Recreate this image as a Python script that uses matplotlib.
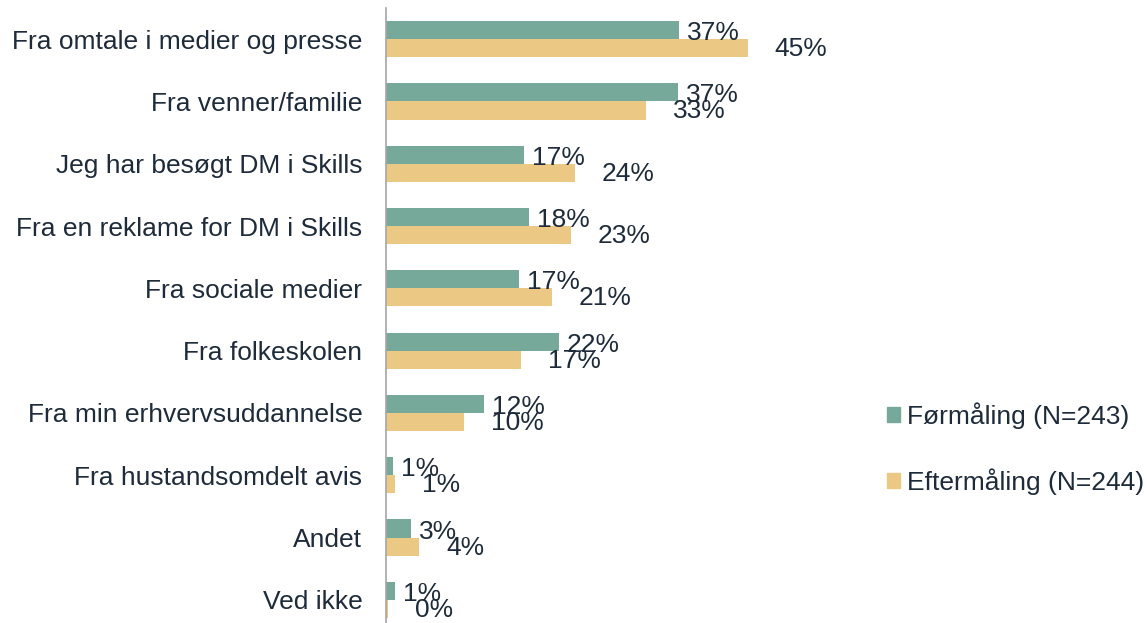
import numpy as np
import matplotlib.pyplot as plt
from matplotlib.patches import Patch

categories = [
    "Fra omtale i medier og presse",
    "Fra venner/familie",
    "Jeg har besøgt DM i Skills",
    "Fra en reklame for DM i Skills",
    "Fra sociale medier",
    "Fra folkeskolen",
    "Fra min erhvervsuddannelse",
    "Fra hustandsomdelt avis",
    "Andet",
    "Ved ikke",
]
# bar lengths (%)
foer = [36.4, 36.3, 17.2, 17.8, 16.5, 21.5, 12.2, 0.9, 3.1, 1.1]
efter = [45.0, 32.3, 23.5, 23.0, 20.6, 16.8, 9.7, 1.1, 4.1, 0.3]
# labels as printed
foer_labels = ["37%", "37%", "17%", "18%", "17%", "22%", "12%", "1%", "3%", "1%"]
efter_labels = ["45%", "33%", "24%", "23%", "21%", "17%", "10%", "1%", "4%", "0%"]
series_names = ["Førmåling (N=243)", "Eftermåling (N=244)"]

green = "#76a99a"
yellow = "#ebc883"
txt = "#1e2b3a"
plt.rcParams["font.family"] = ["Liberation Sans", "DejaVu Sans"]

W, H = 1147, 623
fig = plt.figure(figsize=(W / 100, H / 100), dpi=100)
ax_left, ax_right = 386, 860
pitch = 62.3
top = 8
ax_h = 10 * pitch
ax = fig.add_axes([ax_left / W, 1 - (top + ax_h) / H, (ax_right - ax_left) / W, ax_h / H])

px_per_pct = 8.04
ax.set_xlim(0, (ax_right - ax_left) / px_per_pct)
ax.set_ylim(9.5, -0.5)

y = np.arange(len(categories))
h = 0.29
ax.barh(y - h / 2, foer, height=h, color=green)
ax.barh(y + h / 2, efter, height=h, color=yellow)

# green labels sit a touch below the bar centre, yellow ones further out
for yi, v, lab in zip(y, foer, foer_labels):
    ax.annotate(lab, (v, yi - h / 2), xytext=(8, -3), textcoords="offset pixels",
                va="center", ha="left", fontsize=19, color=txt)
for yi, v, lab in zip(y, efter, efter_labels):
    ax.annotate(lab, (v, yi + h / 2), xytext=(27, -1), textcoords="offset pixels",
                va="center", ha="left", fontsize=19, color=txt)

ax.set_yticks(y)
ax.set_yticklabels(categories, fontsize=19, color=txt)
ax.tick_params(axis="y", length=0, pad=17)
ax.set_xticks([])
for s in ["top", "right", "bottom"]:
    ax.spines[s].set_visible(False)
ax.spines["left"].set_color("#a6a6a6")
ax.spines["left"].set_linewidth(1.2)

handles = [Patch(color=green), Patch(color=yellow)]
fig.legend(handles, series_names, loc="center left", bbox_to_anchor=(887 / W, 1 - 448.5 / H),
           frameon=False, fontsize=19, handlelength=0.5, handleheight=0.5,
           handletextpad=0.25, labelspacing=1.5, borderpad=0, borderaxespad=0,
           labelcolor=txt)

fig.savefig("out.png", dpi=100)
